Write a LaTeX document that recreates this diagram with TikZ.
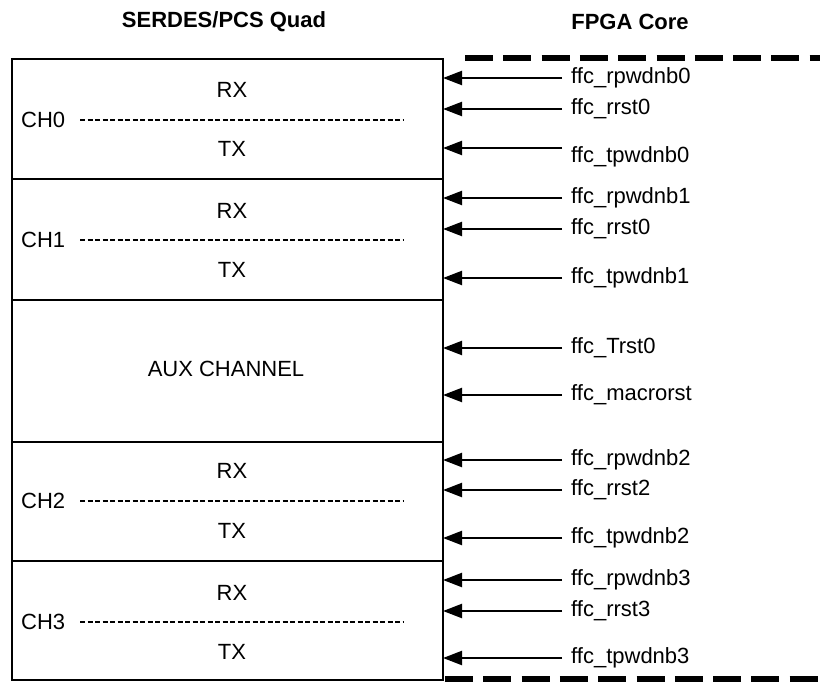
\documentclass[tikz,border=0pt]{standalone}
\usepackage{fontspec}
\setmainfont{Liberation Sans}
\usetikzlibrary{arrows.meta}
\begin{document}
\begin{tikzpicture}[x=1pt,y=-1pt,
  txt/.style={font=\fontsize{22}{26}\selectfont, inner sep=0pt},
  ttl/.style={font=\fontsize{22}{26}\selectfont\bfseries, inner sep=0pt},
  chbox/.style={draw, line width=2.4pt, minimum width=431pt, inner sep=0pt, outer sep=0pt},
  lab/.style={txt, anchor=west, inner xsep=9pt},
  sig/.style={line width=2.2pt, -{Triangle[length=19pt,width=14pt]}},
  fine/.style={line width=1.8pt, dash pattern=on 5pt off 2.5pt},
  border/.style={line width=5.5pt, dash pattern=on 28pt off 10.3pt}]
\useasboundingbox (0,0) rectangle (820,683);

% titles
\node[ttl] (t1) at (224,22) {SERDES/PCS Quad};
\node[ttl] (t2) at (630,22) {FPGA Core};

% FPGA core boundary
\coordinate (bt0) at (465,58);
\coordinate (bt1) at (820,58);
\coordinate (bb0) at (445,679);
\coordinate (bb1) at (820,679);
\draw[border] (bt0) -- (bt1);
\draw[border] (bb0) -- (bb1);

% channel boxes
\node[chbox, minimum height=120pt] (ch0) at (227.5,119) {};
\node[chbox, minimum height=121pt] (ch1) at (227.5,239.5) {};
\node[chbox, minimum height=142pt] (aux) at (227.5,371) {};
\node[chbox, minimum height=119pt] (ch2) at (227.5,501.5) {};
\node[chbox, minimum height=119pt] (ch3) at (227.5,620.5) {};

% CH0
\node[txt] (rx0) at (232,90) {RX};
\node[txt, anchor=west] (n0) at (21,120) {CH0};
\node[txt] (tx0) at (232,149) {TX};
\coordinate (d0a) at (80,120); \coordinate (d0b) at (403,120);
\draw[fine] (d0a) -- (d0b);
% CH1
\node[txt] (rx1) at (232,211) {RX};
\node[txt, anchor=west] (n1) at (21,240) {CH1};
\node[txt] (tx1) at (232,270) {TX};
\coordinate (d1a) at (80,240); \coordinate (d1b) at (403,240);
\draw[fine] (d1a) -- (d1b);
% AUX
\node[txt] (auxt) at (226,369) {AUX CHANNEL};
% CH2
\node[txt] (rx2) at (232,471) {RX};
\node[txt, anchor=west] (n2) at (21,501) {CH2};
\node[txt] (tx2) at (232,531) {TX};
\coordinate (d2a) at (80,501); \coordinate (d2b) at (403,501);
\draw[fine] (d2a) -- (d2b);
% CH3
\node[txt] (rx3) at (232,593) {RX};
\node[txt, anchor=west] (n3) at (21,622) {CH3};
\node[txt] (tx3) at (232,652) {TX};
\coordinate (d3a) at (80,622); \coordinate (d3b) at (403,622);
\draw[fine] (d3a) -- (d3b);

% signals
\node[lab] (s01) at (562,78) {ffc\_rpwdnb0};
\node[lab] (s02) at (562,109) {ffc\_rrst0};
\node[lab] (s03) at (562,157) {ffc\_tpwdnb0};
\coordinate (c03) at (562,148);
\draw[sig] (s01.west) -- (s01.west -| ch0.east);
\draw[sig] (s02.west) -- (s02.west -| ch0.east);
\draw[sig] (c03) -- (c03 -| ch0.east);

\node[lab] (s11) at (562,198) {ffc\_rpwdnb1};
\node[lab] (s12) at (562,229) {ffc\_rrst0};
\node[lab] (s13) at (562,278) {ffc\_tpwdnb1};
\draw[sig] (s11.west) -- (s11.west -| ch1.east);
\draw[sig] (s12.west) -- (s12.west -| ch1.east);
\draw[sig] (s13.west) -- (s13.west -| ch1.east);

\node[lab] (sa1) at (562,348) {ffc\_Trst0};
\node[lab] (sa2) at (562,395) {ffc\_macrorst};
\draw[sig] (sa1.west) -- (sa1.west -| aux.east);
\draw[sig] (sa2.west) -- (sa2.west -| aux.east);

\node[lab] (s21) at (562,460) {ffc\_rpwdnb2};
\node[lab] (s22) at (562,490) {ffc\_rrst2};
\node[lab] (s23) at (562,538) {ffc\_tpwdnb2};
\draw[sig] (s21.west) -- (s21.west -| ch2.east);
\draw[sig] (s22.west) -- (s22.west -| ch2.east);
\draw[sig] (s23.west) -- (s23.west -| ch2.east);

\node[lab] (s31) at (562,580) {ffc\_rpwdnb3};
\node[lab] (s32) at (562,611) {ffc\_rrst3};
\node[lab] (s33) at (562,658) {ffc\_tpwdnb3};
\draw[sig] (s31.west) -- (s31.west -| ch3.east);
\draw[sig] (s32.west) -- (s32.west -| ch3.east);
\draw[sig] (s33.west) -- (s33.west -| ch3.east);
\end{tikzpicture}
\end{document}
